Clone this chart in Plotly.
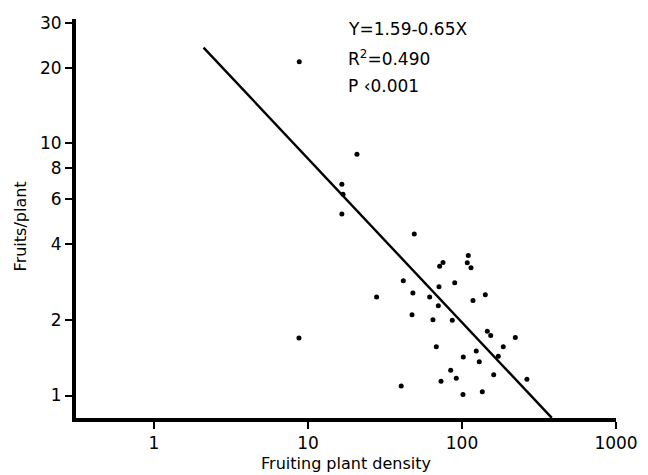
import math
import plotly.graph_objects as go

# Data (fruiting plant density vs fruits per plant)
density = [8.78, 20.8, 16.6, 16.9, 16.6,
           49.0, 109.9, 75.3, 71.6, 108.2, 114.4, 41.6, 89.7, 70.9, 48.0,
           27.9, 61.7, 141.7, 117.9, 70.2, 47.4, 64.8, 86.5, 146.0, 153.6,
           222.0, 8.74, 68.1, 185.4, 102.0, 123.8, 172.1, 129.5, 84.5, 91.8,
           160.7, 264.0, 73.1, 40.3, 101.5, 135.5]
fruits = [21.1, 9.06, 6.89, 6.29, 5.25,
          4.37, 3.59, 3.37, 3.26, 3.36, 3.21, 2.85, 2.80, 2.70, 2.55,
          2.46, 2.46, 2.51, 2.38, 2.27, 2.09, 2.00, 1.99, 1.80, 1.73,
          1.70, 1.69, 1.56, 1.56, 1.42, 1.50, 1.43, 1.36, 1.26, 1.17,
          1.21, 1.16, 1.14, 1.09, 1.01, 1.035]

# Regression: log10(Y) = 1.59 - 0.65 log10(X)
intercept = 1.59
slope = -0.65
line_x = [2.1, 383.0]
line_y = [10 ** (intercept + slope * math.log10(v)) for v in line_x]

x_ticks = [1, 10, 100, 1000]
x_tick_labels = ["1", "10", "100", "1000"]
y_ticks = [1, 2, 4, 6, 8, 10, 20, 30]
y_tick_labels = ["1", "2", "4", "6", "8", "10", "20", "30"]

stats_text = ["Y=1.59-0.65X", "R<sup>2</sup>=0.490", "P ‹0.001"]
y_title = "Fruits/plant"
x_title = "Fruiting plant density"

FONT = "DejaVu Sans"

fig = go.Figure()
fig.add_trace(go.Scatter(x=line_x, y=line_y, mode="lines",
                         line=dict(color="black", width=2.4),
                         showlegend=False, hoverinfo="skip"))
fig.add_trace(go.Scatter(x=density, y=fruits, mode="markers",
                         marker=dict(color="black", size=5),
                         showlegend=False))

ann_y = [0.975, 0.903, 0.832]
for t, yy in zip(stats_text, ann_y):
    fig.add_annotation(text=t, xref="paper", yref="paper", x=0.5, y=yy,
                       xanchor="left", yanchor="middle", showarrow=False,
                       font=dict(family=FONT, size=17, color="black"))

# y-axis title as a rotated annotation (sits slightly below plot centre)
fig.add_annotation(text=y_title, xref="paper", yref="paper", x=-0.102, y=0.48,
                   xanchor="center", yanchor="middle", textangle=-90,
                   showarrow=False, font=dict(family=FONT, size=16, color="black"))

fig.update_layout(
    width=640, height=467,
    margin=dict(l=68, r=32, t=11, b=57),
    paper_bgcolor="white", plot_bgcolor="white",
    font=dict(family=FONT, size=16, color="black"),
)
fig.update_xaxes(type="log", range=[-0.506, 3.0], automargin=False,
                 tickvals=x_ticks, ticktext=x_tick_labels,
                 showgrid=False, zeroline=False,
                 showline=True, linecolor="black", linewidth=4,
                 ticks="outside", ticklen=7, tickwidth=2, tickcolor="black",
                 tickfont=dict(family=FONT, size=17),
                 title=dict(text=x_title, standoff=6,
                            font=dict(family=FONT, size=16)))
fig.update_yaxes(type="log", range=[-0.0893, 1.494], automargin=False,
                 tickvals=y_ticks, ticktext=y_tick_labels,
                 showgrid=False, zeroline=False,
                 showline=True, linecolor="black", linewidth=4,
                 ticks="outside", ticklen=7, tickwidth=2, tickcolor="black",
                 tickfont=dict(family=FONT, size=17))

fig.write_html("out.html")
